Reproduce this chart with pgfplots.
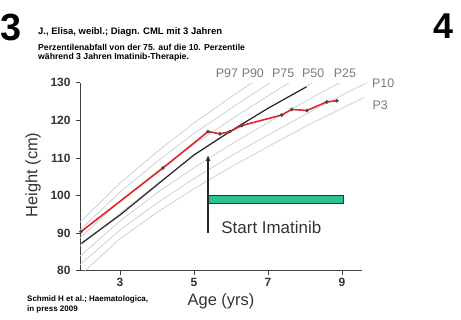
\documentclass[border=0pt]{standalone}
\usepackage{fontspec}
\setmainfont{Liberation Sans}
\usepackage{pgfplots}
\pgfplotsset{compat=1.18}
\usetikzlibrary{arrows.meta}
\definecolor{imagreen}{HTML}{2BC48E}
\definecolor{redline}{HTML}{E0262C}
\definecolor{pgray}{HTML}{CBCBCB}
\definecolor{plabel}{HTML}{7A7A7A}
\begin{document}
\begin{tikzpicture}[x=1bp,y=1bp]
\begin{axis}[at={(80bp,48.3bp)}, anchor=south west,
  width=282bp, height=188bp, scale only axis,
  xmin=1.92, xmax=9.54, ymin=80, ymax=130,
  axis x line*=bottom, axis y line*=left,
  axis line style={line width=1pt, color=black!75},
  xtick={3,5,7,9}, ytick={80,90,...,130},
  tick style={line width=0.8pt, color=black!75},
  tick align=outside, major tick length=4bp,
  ticklabel style={font=\fontsize{12}{12}\selectfont\bfseries, text=black!80},
  yticklabel style={xshift=-2bp},
  /pgf/number format/assume math mode=true,
  xlabel={Age (yrs)},
  label style={font=\fontsize{16.5}{16.5}\selectfont, text=black!80},
  xlabel style={at={(axis description cs:0.5,0)}, anchor=center, yshift=-31bp},
  clip=false]
% percentile curves
\addplot[pgray, line width=0.7pt] coordinates {(2.06,80) (3,88.5) (4,95.5) (5,101.8) (6,107.6) (7,113) (8,118.3) (9,123.2) (9.6,126.1)};
\addplot[pgray, line width=0.7pt] coordinates {(1.92,81.6) (3,90.8) (4,98) (5,104.5) (6,110.5) (7,116.1) (8,121.5) (9,126.7) (9.68,130)};
\addplot[pgray, line width=0.7pt] coordinates {(1.92,83.9) (3,93.2) (4,100.7) (5,107.4) (6,113.6) (7,119.4) (8,125) (8.93,130)};
\addplot[pgray, line width=0.7pt] coordinates {(1.92,86.6) (3,95.3) (4,103) (5,110.6) (6,117.1) (7,123.2) (8,128.8) (8.2,130)};
\addplot[pgray, line width=0.7pt] coordinates {(1.92,88.7) (3,98.5) (4,106.4) (5,113.6) (6,120.2) (7,126.5) (7.57,130)};
\addplot[pgray, line width=0.7pt] coordinates {(1.92,90.8) (3,100.9) (4,109) (5,116.5) (6,123.2) (7.05,130)};
\addplot[pgray, line width=0.7pt] coordinates {(1.92,92.9) (3,103.3) (4,111.6) (5,119.3) (6,126.2) (6.57,130)};
% reference curve
\addplot[black!85, line width=1.2pt] coordinates {(1.96,87.3) (3,94.8) (4.16,104.1) (5,110.8) (6,117.2) (7,123.2) (8.04,128.9)};
% patient
\addplot[redline, line width=1.6pt, mark=*, mark size=0.9pt, mark options={fill=black!70, draw=black!70}] coordinates {(1.95,90.4) (4.16,107.3) (5.38,117.0) (5.7,116.4) (5.97,117.0) (6.29,118.6) (7.37,121.4) (7.64,122.9) (8.05,122.6) (8.59,124.9) (8.86,125.2)};
% imatinib bar and arrow
\addplot[fill=imagreen, draw=black!80, line width=0.8pt] coordinates {(5.38,97.8) (9.03,97.8) (9.03,99.9) (5.38,99.9)} -- cycle;
\addplot[black!85, line width=1.5pt, -{Latex[length=6bp,width=5bp]}] coordinates {(5.38,90) (5.38,110.8)};
\node[text=black!80, font=\fontsize{17}{17}\selectfont] at (axis cs:7.09,91.6) {Start Imatinib};
% percentile labels
\node[text=plabel, font=\fontsize{12.5}{12.5}\selectfont] at (axis cs:5.89,132.6) {P97};
\node[text=plabel, font=\fontsize{12.5}{12.5}\selectfont] at (axis cs:6.59,132.6) {P90};
\node[text=plabel, font=\fontsize{12.5}{12.5}\selectfont] at (axis cs:7.41,132.6) {P75};
\node[text=plabel, font=\fontsize{12.5}{12.5}\selectfont] at (axis cs:8.22,132.6) {P50};
\node[text=plabel, font=\fontsize{12.5}{12.5}\selectfont] at (axis cs:9.08,132.6) {P25};
\node[text=plabel, font=\fontsize{12.5}{12.5}\selectfont] at (axis cs:10.11,129.9) {P10};
\node[text=plabel, font=\fontsize{12.5}{12.5}\selectfont] at (axis cs:10.03,124.1) {P3};
\end{axis}
% y label
\node[rotate=90, text=black!80, font=\fontsize{16.5}{16.5}\selectfont] at (33,144) {Height (cm)};
% header and footer
\node[anchor=west, inner sep=0pt, font=\fontsize{9.5}{9.5}\selectfont\bfseries] at (38,287) {J., Elisa, weibl.; Diagn. CML mit 3 Jahren};
\node[anchor=west, inner sep=0pt, font=\fontsize{8.7}{8.7}\selectfont\bfseries] at (38,272) {Perzentilenabfall von der 75. auf die 10. Perzentile};
\node[anchor=west, inner sep=0pt, font=\fontsize{8.7}{8.7}\selectfont\bfseries] at (38,262) {während 3 Jahren Imatinib-Therapie.};
\node[anchor=west, inner sep=0pt, font=\fontsize{8}{8}\selectfont\bfseries] at (27,20) {Schmid H et al.; Haematologica,};
\node[anchor=west, inner sep=0pt, font=\fontsize{8}{8}\selectfont\bfseries] at (27,10) {in press 2009};
% panel labels
\node[font=\fontsize{38}{38}\selectfont\bfseries] at (11,292) {3};
\node[font=\fontsize{36}{36}\selectfont\bfseries] at (443,293) {4};
\pgfresetboundingbox
\path[use as bounding box] (0,0) rectangle (461,319);
\end{tikzpicture}
\end{document}
